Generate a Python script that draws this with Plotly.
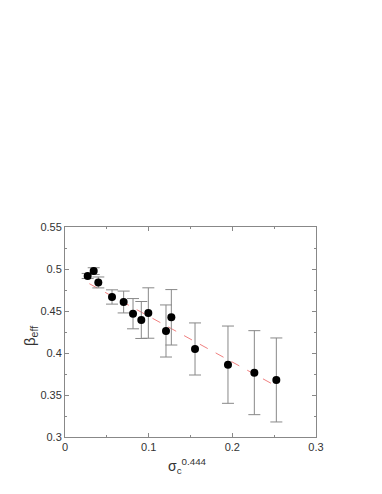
import plotly.graph_objects as go

sigma_x = [0.0271, 0.0343, 0.0398, 0.0562, 0.0701, 0.0813, 0.0912, 0.0996,
           0.1207, 0.1271, 0.1554, 0.1948, 0.2263, 0.2526]
beta_eff = [0.4917, 0.4975, 0.4840, 0.4667, 0.4607, 0.4468, 0.4393, 0.4476,
            0.4262, 0.4425, 0.4048, 0.3861, 0.3766, 0.3679]
beta_err = [0.003, 0.004, 0.0065, 0.0085, 0.013, 0.018, 0.022, 0.030,
            0.031, 0.033, 0.031, 0.046, 0.050, 0.050]

fit_x = [0.0291, 0.2530]
fit_y = [0.4825, 0.3603]

x_ticks = [0, 0.1, 0.2, 0.3]
x_tick_labels = ["0", "0.1", "0.2", "0.3"]
y_ticks = [0.3, 0.35, 0.4, 0.45, 0.5, 0.55]
y_tick_labels = ["0.3", "0.35", "0.4", "0.45", "0.5", "0.55"]

fig = go.Figure()
fig.add_trace(go.Scatter(
    x=fit_x, y=fit_y, mode="lines",
    line=dict(color="#f08080", width=1, dash="dash"),
    hoverinfo="skip", showlegend=False))
fig.add_trace(go.Scatter(
    x=sigma_x, y=beta_eff, mode="markers",
    marker=dict(color="black", size=8),
    error_y=dict(type="data", array=beta_err, visible=True,
                 color="#888888", thickness=1, width=6),
    showlegend=False))

axis_common = dict(
    showgrid=False, zeroline=False, showline=True, linecolor="#888888",
    linewidth=1, mirror="allticks", ticks="inside", ticklen=4,
    tickcolor="#888888", tickfont=dict(family="Liberation Sans", size=11, color="#333333"),
)
fig.update_xaxes(range=[0, 0.3], tickvals=x_ticks, ticktext=x_tick_labels,
                 minor=dict(ticks="inside", ticklen=2, dtick=0.05, tickcolor="#888888"),
                 **axis_common)
fig.update_yaxes(range=[0.3, 0.55], tickvals=y_ticks, ticktext=y_tick_labels,
                 minor=dict(ticks="inside", ticklen=2, dtick=0.025, tickcolor="#888888"),
                 **axis_common)

fig.add_annotation(text="σ<sub>c</sub><sup>0.444</sup>", xref="paper", yref="paper",
                   x=0.49, y=-0.08, xanchor="center", yanchor="top", showarrow=False,
                   font=dict(family="Liberation Sans", size=14, color="#333333"))
fig.add_annotation(text="β<sub>eff</sub>", xref="paper", yref="paper",
                   x=-0.14, y=0.48, xanchor="center", yanchor="middle", showarrow=False,
                   textangle=-90,
                   font=dict(family="Liberation Sans", size=15, color="#333333"))

fig.update_layout(
    width=382, height=494,
    margin=dict(l=57, r=74, t=219, b=65),
    plot_bgcolor="white", paper_bgcolor="white",
)
fig.write_html("out.html")
